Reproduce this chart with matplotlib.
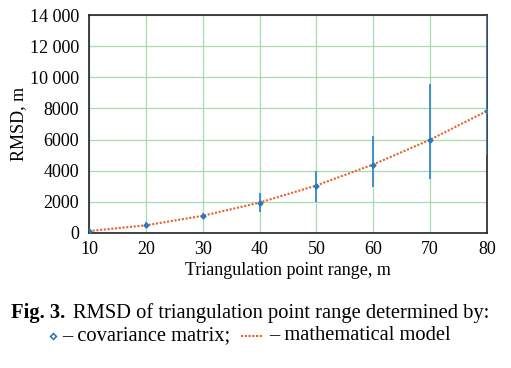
import matplotlib
matplotlib.use('Agg')
import matplotlib.pyplot as plt
from matplotlib.lines import Line2D
from matplotlib.ticker import FuncFormatter

plt.rcParams['font.family'] = ['Liberation Serif', 'DejaVu Serif']

# Дальность до точки триангуляции, м
ranges = [10, 20, 30, 40, 50, 60, 70, 80]
# СКО по ковариационной матрице
cov_rmsd = [100, 500, 1080, 1900, 3020, 4370, 5970, 7840]
err_low = [60, 180, 200, 550, 1050, 1400, 2520, 2840]
err_high = [60, 180, 190, 670, 960, 1860, 3600, 7000]
# СКО по математической модели
model_rmsd = [120, 490, 1100, 1950, 3050, 4400, 5990, 7840]

yticks = [0, 2000, 4000, 6000, 8000, 10000, 12000, 14000]
xticks = [10, 20, 30, 40, 50, 60, 70, 80]

blue = '#2b78bd'
orange = '#e5622a'

fig = plt.figure(figsize=(5.11, 3.68), dpi=100)
ax = fig.add_axes([0.174, 0.367, 0.779, 0.592])

ax.plot(ranges, model_rmsd, ls=(0, (1, 0.8)), color=orange, lw=1.5, zorder=3)
ax.errorbar(ranges, cov_rmsd, yerr=[err_low, err_high], fmt='D', ms=2.5,
            color=blue, ecolor='#3a86c8', elinewidth=1.3, capsize=0, zorder=4)

ax.set_xlim(10, 80)
ax.set_ylim(0, 14000)
ax.set_xticks(xticks)
ax.set_yticks(yticks)
ax.yaxis.set_major_formatter(FuncFormatter(
    lambda v, p: f"{int(v):,}".replace(',', ' ') if v >= 10000 else f"{int(v)}"))
ax.tick_params(length=0, labelsize=13)
ax.tick_params(axis='y', pad=7)
ax.tick_params(axis='x', pad=6)
ax.grid(True, color='#a6dcae', lw=0.9)
for s in ax.spines.values():
    s.set_color('#222222')
    s.set_linewidth(1.2)

ax.set_xlabel('Triangulation point range, m', fontsize=13, labelpad=3)
ax.set_ylabel('RMSD, m', fontsize=13, labelpad=2)

# Подпись к рисунку
fs = 14.8
fig.text(0.022, 0.150, 'Fig. 3.', fontsize=fs, fontweight='bold', ha='left', va='center')
fig.text(0.143, 0.150, 'RMSD of triangulation point range determined by:',
         fontsize=fs, ha='left', va='center')
fig.add_artist(Line2D([0.104], [0.087], marker='D', ms=3, mfc='white',
                      mec=blue, mew=1.2, transform=fig.transFigure))
fig.text(0.121, 0.087, '– covariance matrix;', fontsize=fs, ha='left', va='center')
fig.add_artist(Line2D([0.472, 0.512], [0.087, 0.087], ls=(0, (1, 0.8)), color=orange,
                      lw=1.5, transform=fig.transFigure))
fig.text(0.527, 0.087, '– mathematical model', fontsize=fs, ha='left', va='center')

fig.savefig('out.png', dpi=100)
